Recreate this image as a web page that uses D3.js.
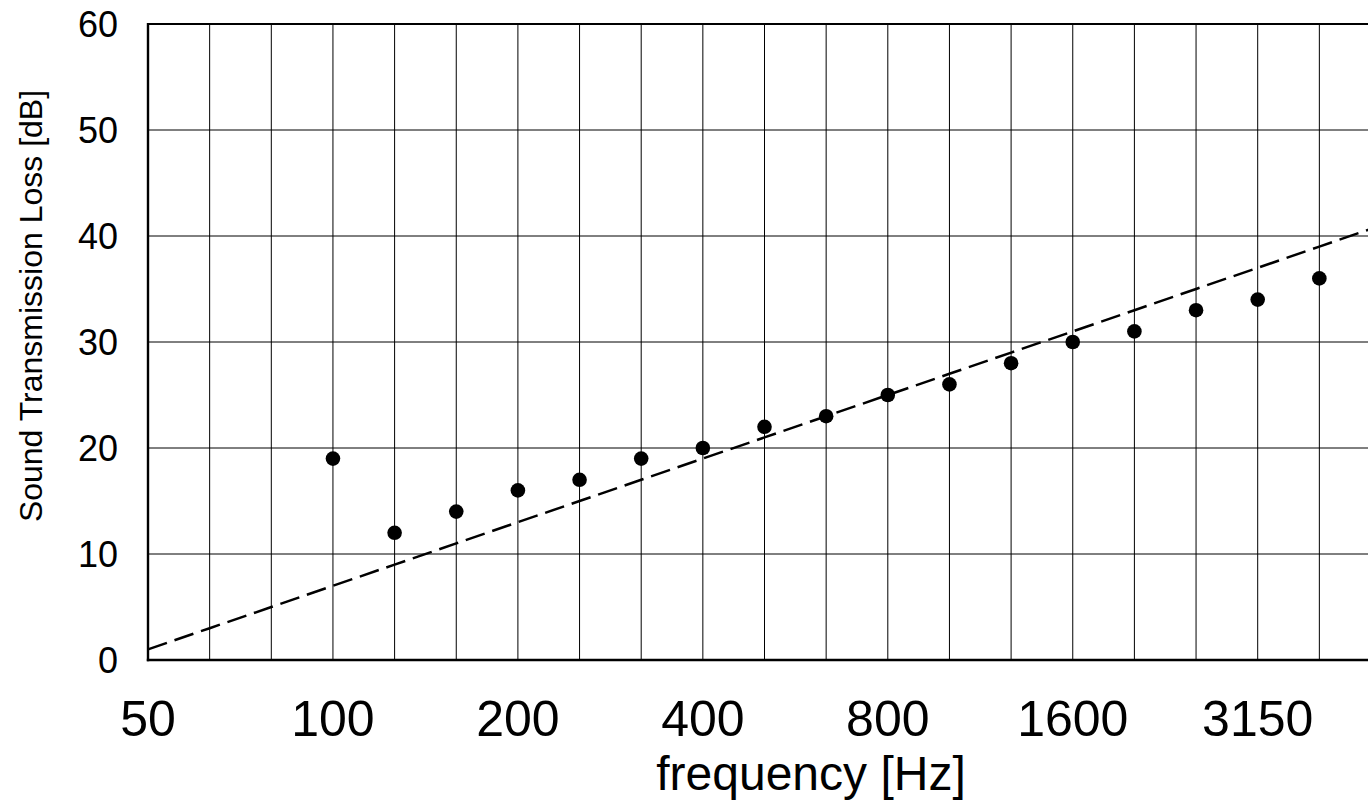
<!DOCTYPE html>
<html>
<head>
<meta charset="utf-8">
<script src="https://cdn.jsdelivr.net/npm/d3@7"></script>
<style>
  html, body { margin: 0; padding: 0; background: #fff; overflow: hidden; }
  svg { display: block; }
  text { font-family: "Liberation Sans", Arial, sans-serif; fill: #000; }
</style>
</head>
<body>
<svg id="chart" width="1368" height="801"></svg>
<script>
// One-third octave band centre frequencies (Hz)
const bands = ["50", "63", "80", "100", "125", "160", "200", "250", "315", "400",
               "500", "630", "800", "1000", "1250", "1600", "2000", "2500", "3150", "4000", "5000"];

// Labelled bands on the frequency axis
const xTickLabels = ["50", "100", "200", "400", "800", "1600", "3150"];

// Measured sound transmission loss per band (dB)
const measuredBands = ["100", "125", "160", "200", "250", "315", "400", "500", "630",
                       "800", "1000", "1250", "1600", "2000", "2500", "3150", "4000"];
const measuredLoss = [19, 12, 14, 16, 17, 19, 20, 22, 23, 25, 26, 28, 30, 31, 33, 34, 36];

// Mass-law reference line, one value per band (dB)
const massLaw = [1, 3, 5, 7, 9, 11, 13, 15, 17, 19, 21, 23, 25, 27, 29, 31, 33, 35, 37, 39, 41];

// Loss axis ticks (dB)
const yTicks = [0, 10, 20, 30, 40, 50, 60];

const svg = d3.select("#chart");
const plotLeft = 148, plotRight = 1381, plotTop = 24, plotBottom = 660;

const x = d3.scalePoint().domain(bands).range([plotLeft, plotRight]);
const y = d3.scaleLinear().domain([0, 60]).range([plotBottom, plotTop]);

// Grid
const grid = svg.append("g");
grid.selectAll("line.v").data(bands).join("line")
  .attr("class", "v")
  .attr("x1", d => x(d)).attr("x2", d => x(d))
  .attr("y1", plotTop).attr("y2", plotBottom)
  .attr("stroke", "#000").attr("stroke-width", 1);
grid.selectAll("line.h").data(yTicks.slice(1, -1)).join("line")
  .attr("class", "h")
  .attr("x1", plotLeft).attr("x2", plotRight)
  .attr("y1", d => y(d)).attr("y2", d => y(d))
  .attr("stroke", "#000").attr("stroke-width", 1);

// Frame
svg.append("line").attr("x1", plotLeft).attr("x2", plotRight).attr("y1", y(60)).attr("y2", y(60))
  .attr("stroke", "#000").attr("stroke-width", 2);
svg.append("line").attr("x1", plotRight).attr("x2", plotRight).attr("y1", plotTop).attr("y2", plotBottom)
  .attr("stroke", "#000").attr("stroke-width", 1);
svg.append("line").attr("x1", plotLeft).attr("x2", plotLeft).attr("y1", plotTop - 1).attr("y2", plotBottom + 1.3)
  .attr("stroke", "#000").attr("stroke-width", 2.4);
svg.append("line").attr("x1", plotLeft - 1.2).attr("x2", plotRight).attr("y1", y(0)).attr("y2", y(0))
  .attr("stroke", "#000").attr("stroke-width", 2.7);

// Mass-law reference (dashed)
const line = d3.line().x((d, i) => x(bands[i])).y(d => y(d));
svg.append("path")
  .datum(massLaw)
  .attr("d", line)
  .attr("fill", "none")
  .attr("stroke", "#000")
  .attr("stroke-width", 2.5)
  .attr("stroke-dasharray", "20 8");

// Measured points
svg.append("g").selectAll("circle")
  .data(measuredLoss)
  .join("circle")
  .attr("cx", (d, i) => x(measuredBands[i]))
  .attr("cy", d => y(d))
  .attr("r", 7.3)
  .attr("fill", "#000");

// Y tick labels
svg.append("g").selectAll("text")
  .data(yTicks)
  .join("text")
  .attr("x", 118)
  .attr("y", d => y(d))
  .attr("dy", "0.36em")
  .attr("text-anchor", "end")
  .style("font-size", "36px")
  .text(d => d);

// X tick labels
svg.append("g").selectAll("text")
  .data(xTickLabels)
  .join("text")
  .attr("x", d => x(d))
  .attr("y", 736)
  .attr("text-anchor", "middle")
  .style("font-size", "50px")
  .text(d => d);

// Axis titles
svg.append("text")
  .attr("x", 811)
  .attr("y", 790)
  .attr("text-anchor", "middle")
  .style("font-size", "48px")
  .text("frequency [Hz]");

svg.append("text")
  .attr("transform", "translate(42,306) rotate(-90)")
  .attr("text-anchor", "middle")
  .style("font-size", "32px")
  .text("Sound Transmission Loss [dB]");
</script>
</body>
</html>
